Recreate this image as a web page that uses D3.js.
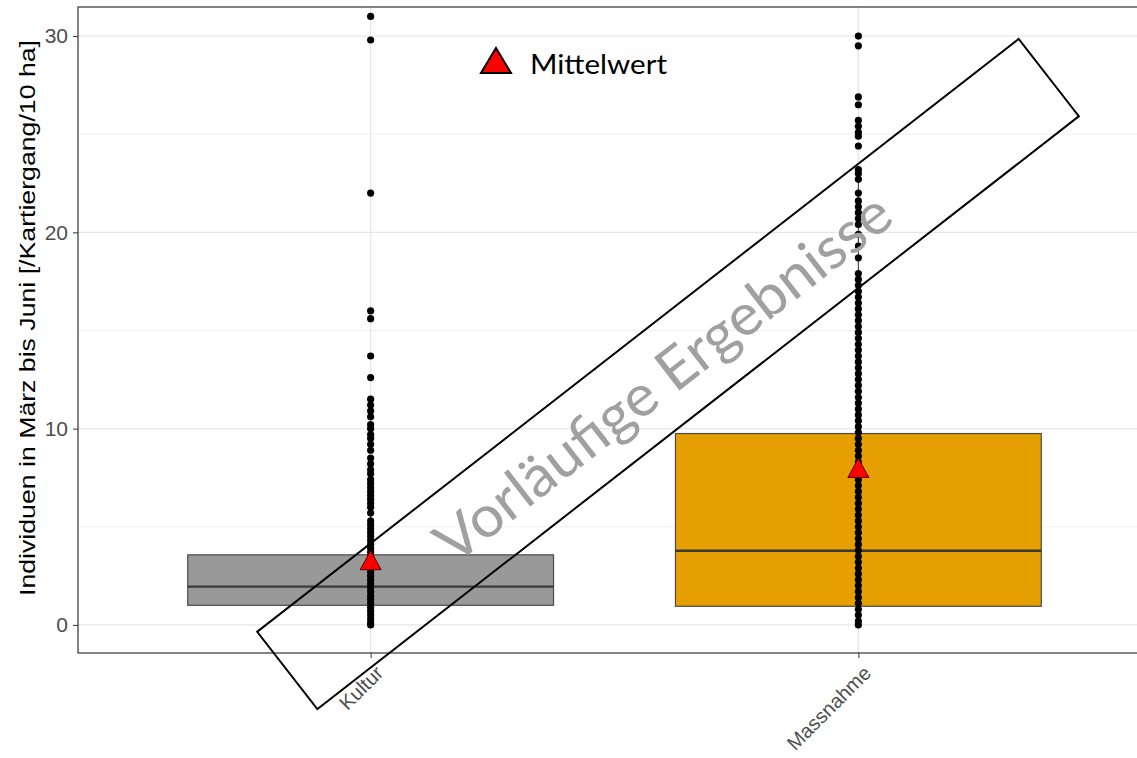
<!DOCTYPE html>
<html>
<head>
<meta charset="utf-8">
<script src="https://cdn.jsdelivr.net/npm/d3@7"></script>
<style>
  html, body { margin: 0; padding: 0; background: #fff; }
  svg { display: block; }
</style>
</head>
<body>
<svg id="chart" width="1137" height="758"></svg>
<script>
// Categories and box statistics
const categories = ["Kultur", "Massnahme"];
const boxFill = ["#999999", "#E69F00"];
const q1 = [1.0, 0.95];
const median = [1.95, 3.78];
const q3 = [3.57, 9.75];
const whiskerLow = [0.0, 0.0];
const whiskerHigh = [7.4, 22.9];
const means = [3.2, 7.9];

// Individual observations per category
const kulturValues = [31.0, 29.8, 22.0, 16.0, 15.6, 13.7, 12.6, 11.5, 11.2, 10.9, 10.6,
  10.2, 10.0, 9.7, 9.5, 9.2, 8.9, 8.5, 8.2, 7.9, 7.7, 7.4, 7.2, 7.0, 6.8, 6.6, 6.4,
  6.2, 6.0, 5.7, 5.3, 5.1, 4.9, 4.7, 4.5, 4.3, 4.1, 3.9, 3.7, 3.5, 3.3, 3.1, 2.9, 2.7,
  2.5, 2.3, 2.1, 1.9, 1.7, 1.5, 1.3, 1.1, 0.9, 0.7, 0.5, 0.3, 0.1, 0.0];
const massnahmeValues = [30.0, 29.5, 26.9, 26.5, 25.7, 25.4, 25.1, 24.9, 24.4, 23.2,
  23.0, 22.7, 22.0, 21.6, 21.3, 21.0, 20.7, 20.4, 19.9, 19.3, 18.7, 17.9, 17.6, 17.3,
  17.0, 16.7, 16.4, 16.1, 15.8, 15.5, 15.2, 14.9, 14.6, 14.3, 14.0, 13.7, 13.4, 13.1,
  12.8, 12.5, 12.2, 11.9, 11.6, 11.3, 11.0, 10.7, 10.4, 10.1, 9.8, 9.5, 9.2, 8.9, 8.6,
  8.3, 8.0, 7.7, 7.4, 7.1, 6.8, 6.5, 6.2, 5.9, 5.6, 5.3, 5.0, 4.7, 4.4, 4.1, 3.8, 3.5,
  3.2, 2.9, 2.6, 2.3, 2.0, 1.7, 1.4, 1.1, 0.8, 0.5, 0.2, 0.0];
const seriesValues = [kulturValues, massnahmeValues];

const yTicks = [0, 10, 20, 30];
const yMinor = [5, 15, 25];
const yTitle = "Individuen in März bis Juni [/Kartiergang/10 ha]";
const legendLabel = "Mittelwert";
const watermark = "Vorläufige Ergebnisse";

const sansFont = "Arial, 'Liberation Sans', Helvetica, sans-serif";

const svg = d3.select("#chart");
const panel = { left: 78, top: 7, right: 1151, bottom: 653 };

// Discrete positions 1..n with 0.6 padding at each side
const x = d3.scaleLinear().domain([0.4, categories.length + 0.6]).range([panel.left, panel.right]);
const y = d3.scaleLinear().domain([-1.43, 31.48]).range([panel.bottom, panel.top]);
const boxHalf = (x(1.75) - x(1)) / 2;

const grid = svg.append("g");
grid.selectAll("line.minor").data(yMinor).join("line")
  .attr("x1", panel.left).attr("x2", panel.right)
  .attr("y1", d => y(d)).attr("y2", d => y(d))
  .attr("stroke", "#ebebeb").attr("stroke-width", 0.8);
grid.selectAll("line.major").data(yTicks).join("line")
  .attr("x1", panel.left).attr("x2", panel.right)
  .attr("y1", d => y(d)).attr("y2", d => y(d))
  .attr("stroke", "#e6e6e6").attr("stroke-width", 1.3);
grid.selectAll("line.vmajor").data(categories).join("line")
  .attr("x1", (d, i) => x(i + 1)).attr("x2", (d, i) => x(i + 1))
  .attr("y1", panel.top).attr("y2", panel.bottom)
  .attr("stroke", "#e6e6e6").attr("stroke-width", 1.3);

// Boxes with whiskers
const boxes = svg.append("g");
categories.forEach((c, i) => {
  const cx = x(i + 1);
  boxes.append("line")
    .attr("x1", cx).attr("x2", cx)
    .attr("y1", y(whiskerHigh[i])).attr("y2", y(q3[i]))
    .attr("stroke", "#333").attr("stroke-width", 1);
  boxes.append("line")
    .attr("x1", cx).attr("x2", cx)
    .attr("y1", y(q1[i])).attr("y2", y(whiskerLow[i]))
    .attr("stroke", "#333").attr("stroke-width", 1);
  boxes.append("rect")
    .attr("x", cx - boxHalf).attr("width", boxHalf * 2)
    .attr("y", y(q3[i])).attr("height", y(q1[i]) - y(q3[i]))
    .attr("fill", boxFill[i]).attr("stroke", "#4a4a4a").attr("stroke-width", 1.2);
  boxes.append("line")
    .attr("x1", cx - boxHalf).attr("x2", cx + boxHalf)
    .attr("y1", y(median[i])).attr("y2", y(median[i]))
    .attr("stroke", "#3a3a3a").attr("stroke-width", 2.4);
});

// Observations
const pts = svg.append("g");
seriesValues.forEach((vals, i) => {
  pts.selectAll(null).data(vals).join("circle")
    .attr("cx", x(i + 1)).attr("cy", d => y(d))
    .attr("r", 3.6).attr("fill", "#000");
});

// Mean markers
function triPath(cx, cy, w, h) {
  return `M${cx},${cy - h * 0.6}L${cx + w / 2},${cy + h * 0.4}L${cx - w / 2},${cy + h * 0.4}Z`;
}
svg.append("g").selectAll("path").data(means).join("path")
  .attr("d", (d, i) => triPath(x(i + 1), y(d), 21, 19))
  .attr("fill", "#ff0000").attr("stroke", "#5a0000").attr("stroke-width", 1);

// Panel border
svg.append("rect")
  .attr("x", panel.left).attr("y", panel.top)
  .attr("width", panel.right - panel.left).attr("height", panel.bottom - panel.top)
  .attr("fill", "none").attr("stroke", "#333").attr("stroke-width", 1.2);

// Y axis
const yAxis = svg.append("g").attr("transform", `translate(${panel.left},0)`)
  .call(d3.axisLeft(y).tickValues(yTicks).tickSize(5).tickPadding(5));
yAxis.select(".domain").remove();
yAxis.selectAll(".tick line").attr("stroke", "#333");
yAxis.selectAll(".tick text").attr("fill", "#4d4d4d")
  .style("font-family", sansFont).style("font-size", "21px");

// X axis
const xAxis = svg.append("g").attr("transform", `translate(0,${panel.bottom})`)
  .call(d3.axisBottom(x).tickValues(categories.map((c, i) => i + 1))
    .tickFormat(d => categories[d - 1]).tickSize(5).tickPadding(4));
xAxis.select(".domain").remove();
xAxis.selectAll(".tick line").attr("stroke", "#333");
xAxis.selectAll(".tick text").attr("fill", "#4d4d4d")
  .style("font-family", sansFont).style("font-size", "20px")
  .attr("text-anchor", "end")
  .attr("transform", "translate(-3,5) rotate(-45)")
  .attr("dy", "0.71em");

// Y title
svg.append("text")
  .attr("transform", `translate(35,318) rotate(-90)`)
  .attr("text-anchor", "middle")
  .style("font-family", sansFont).style("font-size", "22px")
  .attr("textLength", 556).attr("lengthAdjust", "spacingAndGlyphs")
  .attr("fill", "#000")
  .text(yTitle);

// Legend
svg.append("path").attr("d", triPath(496, 63, 30, 25))
  .attr("fill", "#ff0000").attr("stroke", "#000").attr("stroke-width", 2);
svg.append("text").attr("x", 530).attr("y", 74)
  .style("font-family", "Lato, 'Open Sans', sans-serif").style("font-size", "27px")
  .attr("textLength", 137).attr("lengthAdjust", "spacingAndGlyphs")
  .attr("fill", "#000").text(legendLabel);

// Watermark frame and text
const wm = svg.append("g").attr("transform", "translate(668,374) rotate(-37.9)");
wm.append("rect").attr("x", -482.5).attr("y", -49).attr("width", 965).attr("height", 98)
  .attr("fill", "none").attr("stroke", "#000").attr("stroke-width", 2);
wm.append("text").attr("x", -6).attr("y", 20).attr("text-anchor", "middle")
  .style("font-family", "Lato, 'Open Sans', sans-serif").style("font-size", "58px")
  .attr("textLength", 560).attr("lengthAdjust", "spacingAndGlyphs")
  .attr("fill", "#a0a0a0").text(watermark);
</script>
</body>
</html>
